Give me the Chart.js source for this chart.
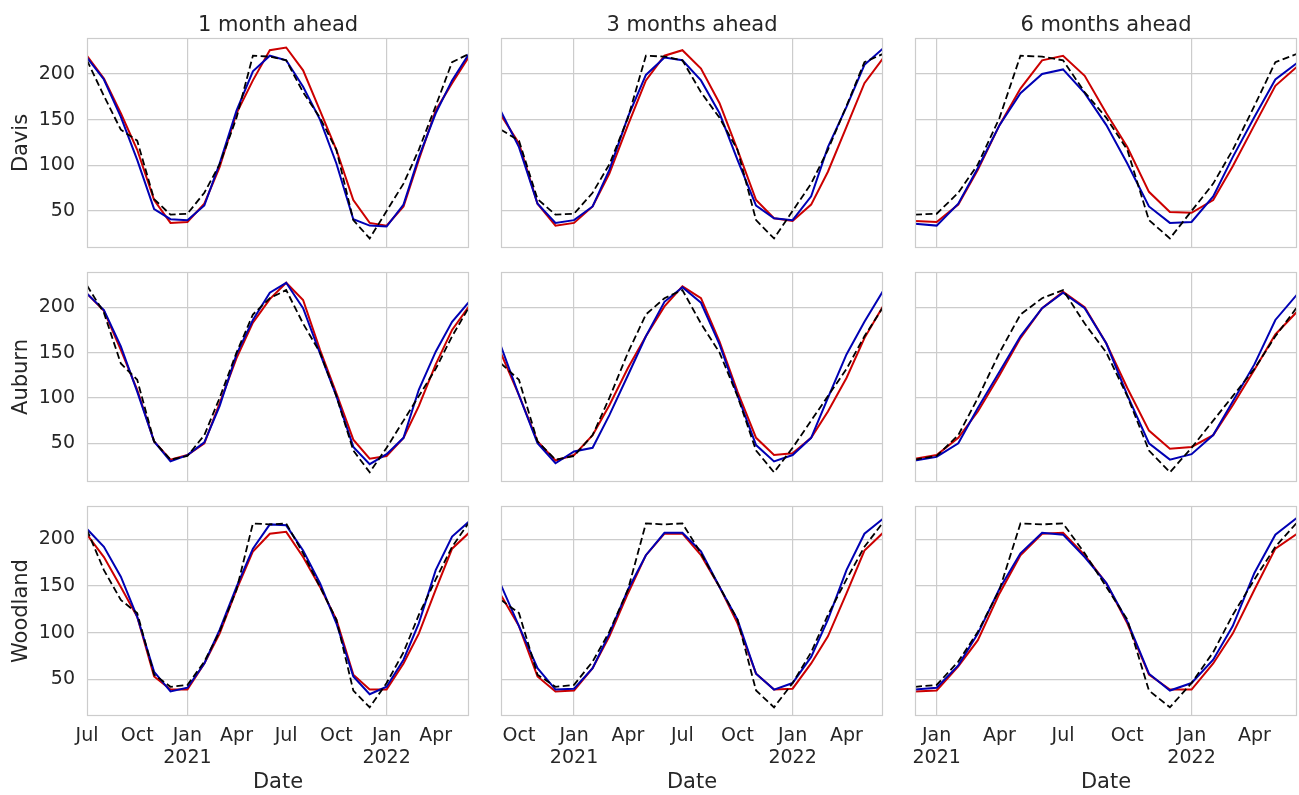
<!DOCTYPE html>
<html>
<head>
<meta charset="utf-8">
<script src="https://cdn.jsdelivr.net/npm/chart.js@4.4.1/dist/chart.umd.min.js"></script>
<style>
  html, body { margin: 0; padding: 0; background: #fff; overflow: hidden; }
  #wrap { position: relative; width: 1299px; height: 795px; }
  #wrap canvas { position: absolute; }
</style>
</head>
<body>
<div id="wrap"></div>
<script>
// monthly dates, Jul 2020 .. Jun 2022
const months = ['2020-07','2020-08','2020-09','2020-10','2020-11','2020-12',
  '2021-01','2021-02','2021-03','2021-04','2021-05','2021-06',
  '2021-07','2021-08','2021-09','2021-10','2021-11','2021-12',
  '2022-01','2022-02','2022-03','2022-04','2022-05','2022-06'];

const rowNames = ['Davis', 'Auburn', 'Woodland'];
const horizonTitles = ['1 month ahead', '3 months ahead', '6 months ahead'];
const horizonStart = [0, 2, 5]; // first month index of each forecast column

const tickMonths = ['2020-07','2020-10','2021-01','2021-04','2021-07','2021-10','2022-01','2022-04'];
const tickLabels = ['Jul', 'Oct', ['Jan', '2021'], 'Apr', 'Jul', 'Oct', ['Jan', '2022'], 'Apr'];
const gridMonths = ['2021-01', '2022-01'];
const yTicks = [50, 100, 150, 200];

// observed (black dashed), Jul 2020 .. Jun 2022
const davisActual    = [215,176,139,127,63,46,47,70,101,152,220,219,215,180,152,117,40,20,50,80,117,165,213,222];
const auburnActual   = [224,194,138,120,52,32,36,59,100,150,192,210,219,182,150,102,42,18,45,75,102,132,168,200];
const woodlandActual = [210,167,135,121,55,42,44,69,101,146,217,216,217,185,149,114,38,20,46,79,119,157,192,218];

// 1 month ahead (Jul 2020 ..)
const davis1Red     = [220,195,157,117,62,37,38,58,98,157,193,226,229,204,160,117,62,37,34,55,106,160,190,219];
const davis1Blue    = [218,194,153,106,52,41,40,56,102,160,203,220,215,186,150,102,41,34,33,57,109,157,193,222];
const auburn1Red    = [215,196,153,109,52,32,37,50,94,144,183,209,227,208,153,105,54,33,36,56,91,137,175,201];
const auburn1Blue   = [215,197,157,107,52,30,37,51,91,148,186,216,227,199,149,102,46,27,38,56,109,151,184,206];
const woodland1Red  = [205,181,149,117,53,39,39,67,99,146,187,206,208,181,149,114,55,39,39,67,99,146,190,207];
const woodland1Blue = [211,192,160,117,58,37,41,67,103,149,190,216,215,188,153,110,53,34,42,71,110,167,203,219];

// 3 months ahead (Sep 2020 ..)
const davis3Red     = [155,124,58,34,37,55,91,144,193,220,226,206,168,117,62,42,39,57,93,142,190,217];
const davis3Blue    = [159,120,58,37,40,55,95,153,199,218,215,193,157,106,56,42,40,66,120,164,210,228];
const auburn3Red    = [149,103,52,31,37,59,92,133,168,201,223,210,162,107,56,37,39,56,85,122,166,201];
const auburn3Blue   = [157,103,50,28,41,45,81,125,168,206,222,205,159,103,48,30,37,56,100,148,184,218];
const woodland3Red  = [140,107,53,37,38,62,96,142,183,206,206,183,149,110,56,39,40,67,96,142,188,207];
const woodland3Blue = [151,107,62,39,40,62,99,146,183,207,207,187,149,114,56,39,46,74,114,167,206,222];

// 6 months ahead (Dec 2020 ..)
const davis6Red     = [39,38,57,95,144,184,215,220,198,157,120,71,49,48,62,99,144,187,208];
const davis6Blue    = [36,34,58,97,144,179,200,205,179,144,102,55,37,38,66,109,153,194,212];
const auburn6Red    = [33,37,56,85,125,166,199,217,200,160,111,64,44,46,59,92,131,170,195];
const auburn6Blue   = [31,35,50,89,129,168,199,216,199,160,103,50,32,38,59,96,137,186,214];
const woodland6Red  = [37,38,64,92,142,183,206,207,183,153,110,55,39,39,67,99,146,190,206];
const woodland6Blue = [39,41,65,99,147,185,207,205,181,153,112,56,38,46,71,107,164,205,223];

const actualByRow = [davisActual, auburnActual, woodlandActual];
const redByPanel = [
  [davis1Red, davis3Red, davis6Red],
  [auburn1Red, auburn3Red, auburn6Red],
  [woodland1Red, woodland3Red, woodland6Red]
];
const blueByPanel = [
  [davis1Blue, davis3Blue, davis6Blue],
  [auburn1Blue, auburn3Blue, auburn6Blue],
  [woodland1Blue, woodland3Blue, woodland6Blue]
];

// layout
const yRange = [[9.5, 239.4], [7.3, 238.9], [10.7, 235.7]];
const canvasLeft = [0, 473, 887];
const plotLeft = [87, 501, 915];
const padRight = [4, 4, 2];
const plotW = 382, plotH = 210;
const canvasTop = [0, 256, 490];
const canvasH = [252, 230, 305];
const padTop = [0, 16, 16];

const TEXT = '#262626';
const GRID = '#cccccc';
Chart.defaults.font.family = '"DejaVu Sans", sans-serif';
Chart.defaults.color = TEXT;

function dayNum(s) {
  const [y, m] = s.split('-').map(Number);
  return Date.UTC(y, m - 1, 1) / 864e5;
}
const tickDays = tickMonths.map(dayNum);
const gridDays = gridMonths.map(dayNum);

const framePlugin = {
  id: 'frame',
  afterDatasetsDraw(chart) {
    const a = chart.chartArea, ctx = chart.ctx;
    ctx.save();
    ctx.strokeStyle = GRID;
    ctx.lineWidth = 1.2;
    ctx.strokeRect(Math.round(a.left) + 0.5, Math.round(a.top) + 0.5,
      Math.round(a.right - a.left) - 1, Math.round(a.bottom - a.top) - 1);
    ctx.restore();
  }
};

const wrap = document.getElementById('wrap');

for (let r = 0; r < 3; r++) {
  for (let c = 0; c < 3; c++) {
    const start = horizonStart[c];
    const xs = months.slice(start).map(dayNum);
    const pts = arr => arr.map((v, i) => ({ x: xs[i], y: v }));
    const actual = actualByRow[r].slice(start);

    const cv = document.createElement('canvas');
    const yW = plotLeft[c] - canvasLeft[c];
    const w = yW + plotW + padRight[c];
    const h = canvasH[r];
    cv.width = w; cv.height = h;
    cv.style.left = canvasLeft[c] + 'px';
    cv.style.top = canvasTop[r] + 'px';
    cv.style.width = w + 'px'; cv.style.height = h + 'px';
    wrap.appendChild(cv);

    const xH = h - padTop[r] - plotH - (r === 0 ? 38 : 0);
    const bottomRow = r === 2;

    new Chart(cv, {
      type: 'line',
      data: {
        datasets: [
          { data: pts(actual), borderColor: '#000', borderWidth: 1.8, borderDash: [7, 3.5] },
          { data: pts(blueByPanel[r][c]), borderColor: '#0000b4', borderWidth: 2 },
          { data: pts(redByPanel[r][c]), borderColor: '#cc0000', borderWidth: 2 }
        ]
      },
      options: {
        responsive: false,
        devicePixelRatio: 1,
        animation: false,
        layout: { padding: { top: padTop[r], right: padRight[c], bottom: 0, left: 0 } },
        elements: { point: { radius: 0 }, line: { tension: 0, fill: false } },
        plugins: {
          legend: { display: false },
          tooltip: { enabled: false },
          title: {
            display: r === 0,
            text: horizonTitles[c],
            fullSize: false,
            font: { size: 21, weight: 'normal' },
            color: TEXT,
            padding: { top: 12.8, bottom: 0 }
          }
        },
        scales: {
          x: {
            type: 'linear',
            min: xs[0],
            max: xs[xs.length - 1],
            afterBuildTicks: s => {
              s.ticks = tickDays.filter(d => d >= s.min && d <= s.max).map(d => ({ value: d }));
            },
            afterFit: s => {
              s.height = xH;
              s.paddingLeft = 0; s.paddingRight = 0;
            },
            grid: {
              drawTicks: false,
              lineWidth: 1.2,
              color: ctx => (ctx.tick && gridDays.includes(ctx.tick.value)) ? GRID : 'rgba(0,0,0,0)'
            },
            border: { display: false },
            ticks: {
              display: bottomRow,
              autoSkip: false,
              maxRotation: 0,
              padding: 9,
              font: { size: 19, lineHeight: 1.15 },
              color: TEXT,
              callback: v => tickLabels[tickDays.indexOf(v)]
            },
            title: {
              display: bottomRow,
              text: 'Date',
              font: { size: 21 },
              color: TEXT,
              padding: { top: 0, bottom: 0 }
            }
          },
          y: {
            min: yRange[r][0],
            max: yRange[r][1],
            afterBuildTicks: s => { s.ticks = yTicks.map(v => ({ value: v })); },
            afterFit: s => {
              s.width = yW;
              s.paddingTop = 0; s.paddingBottom = 0;
            },
            grid: { drawTicks: false, color: GRID, lineWidth: 1.2 },
            border: { display: false },
            ticks: {
              display: c === 0,
              padding: 12,
              font: { size: 19 },
              color: TEXT
            },
            title: {
              display: c === 0,
              text: rowNames[r],
              font: { size: 21 },
              color: TEXT,
              padding: { top: 8.5, bottom: 0 }
            }
          }
        }
      },
      plugins: [framePlugin]
    });
  }
}
</script>
</body>
</html>
